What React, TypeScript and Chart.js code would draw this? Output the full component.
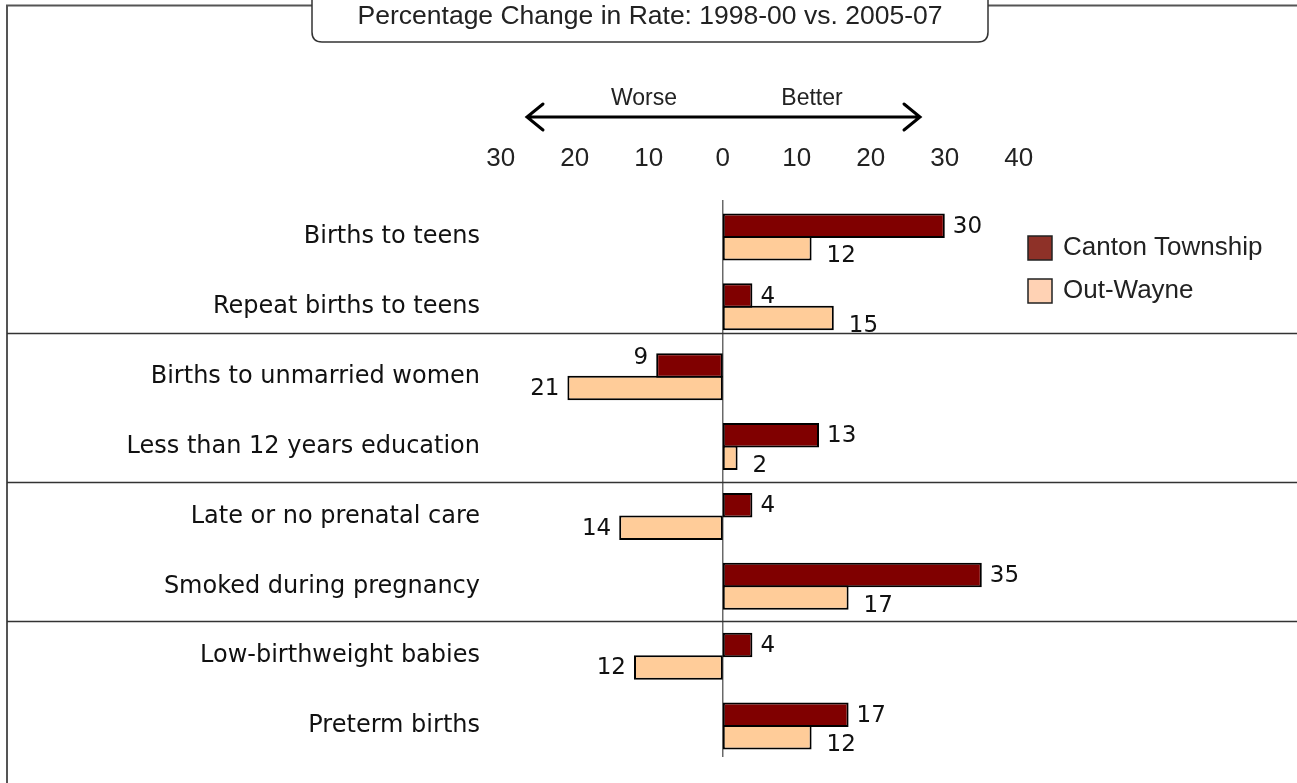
import React, { useEffect, useRef } from "react";
import { Chart, registerables } from "chart.js";

Chart.register(...registerables);

const categories = [
  "Births to teens",
  "Repeat births to teens",
  "Births to unmarried women",
  "Less than 12 years education",
  "Late or no prenatal care",
  "Smoked during pregnancy",
  "Low-birthweight babies",
  "Preterm births",
];
const cantonValues = [30, 4, -9, 13, 4, 35, 4, 17];
const outWayneValues = [12, 15, -21, 2, -14, 17, -12, 12];
const xTickValues = [-30, -20, -10, 0, 10, 20, 30, 40];
const seriesNames = ["Canton Township", "Out-Wayne"];
const groupSeparatorsAt = [1.38, 3.5, 5.5];
const chartTitle = "Percentage Change in Rate: 1998-00 vs. 2005-07";
const directionWords = ["Worse", "Better"];

const BAR_COLORS = ["#800000", "#FFCC99"];
const LEGEND_COLORS = ["#8E3128", "#FFD2B4"];
const LABEL_FONT = '23px "DejaVu Sans"';
const SANS = '"Liberation Sans", Arial, sans-serif';

const decorPlugin = {
  id: "decor",
  beforeDatasetsDraw(chart: any) {
    const { ctx, chartArea, scales } = chart;
    const x0 = scales.x.getPixelForValue(0);
    ctx.save();
    ctx.strokeStyle = "#444";
    ctx.lineWidth = 1.2;
    ctx.beginPath();
    ctx.moveTo(x0, chartArea.top - 2);
    ctx.lineTo(x0, chartArea.bottom - 4);
    ctx.stroke();
    ctx.restore();
  },
  afterDraw(chart: any) {
    const { ctx, scales, width } = chart;
    const yScale = scales.y;
    ctx.save();

    // frame
    ctx.strokeStyle = "#555";
    ctx.lineWidth = 2;
    ctx.beginPath();
    ctx.moveTo(7, 783);
    ctx.lineTo(7, 5.5);
    ctx.lineTo(width, 5.5);
    ctx.stroke();

    // title box
    const bx0 = 312, bx1 = 988, by0 = -20, by1 = 42, r = 10;
    ctx.beginPath();
    ctx.moveTo(bx0, by0);
    ctx.lineTo(bx0, by1 - r);
    ctx.quadraticCurveTo(bx0, by1, bx0 + r, by1);
    ctx.lineTo(bx1 - r, by1);
    ctx.quadraticCurveTo(bx1, by1, bx1, by1 - r);
    ctx.lineTo(bx1, by0);
    ctx.closePath();
    ctx.fillStyle = "#fff";
    ctx.fill();
    ctx.strokeStyle = "#333";
    ctx.lineWidth = 1.5;
    ctx.stroke();
    ctx.fillStyle = "#222";
    ctx.font = "26.5px " + SANS;
    ctx.textAlign = "center";
    ctx.textBaseline = "middle";
    ctx.fillText(chartTitle, 650, 17);

    // direction arrow
    const ay = 117, ax0 = 527, ax1 = 920;
    ctx.strokeStyle = "#000";
    ctx.lineWidth = 3;
    ctx.lineCap = "round";
    ctx.beginPath();
    ctx.moveTo(ax0, ay);
    ctx.lineTo(ax1, ay);
    ctx.moveTo(ax0 + 16, ay - 13);
    ctx.lineTo(ax0, ay);
    ctx.lineTo(ax0 + 16, ay + 13);
    ctx.moveTo(ax1 - 16, ay - 13);
    ctx.lineTo(ax1, ay);
    ctx.lineTo(ax1 - 16, ay + 13);
    ctx.stroke();
    ctx.font = "23px " + SANS;
    ctx.fillStyle = "#222";
    ctx.fillText(directionWords[0], 644, 99);
    ctx.fillText(directionWords[1], 812, 99);

    // group separators
    ctx.strokeStyle = "#333";
    ctx.lineWidth = 1.5;
    ctx.lineCap = "butt";
    groupSeparatorsAt.forEach((pos) => {
      const yy = Math.round(yScale.getPixelForValue(pos)) + 0.5;
      ctx.beginPath();
      ctx.moveTo(7, yy);
      ctx.lineTo(width, yy);
      ctx.stroke();
    });

    // data labels
    ctx.font = LABEL_FONT;
    ctx.fillStyle = "#111";
    ctx.textBaseline = "middle";
    chart.data.datasets.forEach((ds: any, di: number) => {
      const meta = chart.getDatasetMeta(di);
      meta.data.forEach((el: any, i: number) => {
        const v = ds.data[i];
        const label = String(Math.abs(v));
        if (v >= 0) {
          ctx.textAlign = "left";
          ctx.fillText(label, el.x + (di === 0 ? 8 : 15), el.y + (di === 0 ? 1 : 8));
        } else {
          ctx.textAlign = "right";
          ctx.fillText(label, el.x - 8, el.y + (di === 0 ? -7 : 1));
        }
      });
    });

    // legend
    ctx.font = "26px " + SANS;
    ctx.textAlign = "left";
    ctx.textBaseline = "middle";
    seriesNames.forEach((name, i) => {
      const top = 236 + i * 43;
      ctx.fillStyle = LEGEND_COLORS[i];
      ctx.fillRect(1028, top, 24, 24);
      ctx.strokeStyle = "#222";
      ctx.lineWidth = 1.5;
      ctx.strokeRect(1028, top, 24, 24);
      ctx.fillStyle = "#222";
      ctx.fillText(name, 1063, top + 12);
    });

    ctx.restore();
  },
};

export default function App() {
  const canvasRef = useRef<HTMLCanvasElement | null>(null);

  useEffect(() => {
    if (!canvasRef.current) return;
    const chart = new Chart(canvasRef.current, {
      type: "bar",
      data: {
        labels: categories,
        datasets: [
          {
            label: seriesNames[0],
            data: cantonValues,
            backgroundColor: BAR_COLORS[0],
            borderColor: "#000",
            borderWidth: 2,
            borderSkipped: false,
          },
          {
            label: seriesNames[1],
            data: outWayneValues,
            backgroundColor: BAR_COLORS[1],
            borderColor: "#000",
            borderWidth: 2,
            borderSkipped: false,
          },
        ],
      },
      options: {
        indexAxis: "y",
        responsive: false,
        animation: false,
        events: [],
        layout: { padding: { left: 0, right: 219, top: 0, bottom: 22 } },
        datasets: {
          bar: { categoryPercentage: 0.645, barPercentage: 1.09 },
        },
        plugins: {
          legend: { display: false },
          tooltip: { enabled: false },
          title: { display: false },
        },
        scales: {
          x: {
            position: "top",
            min: -32,
            max: 48,
            grid: { display: false, drawTicks: false },
            border: { display: false },
            afterFit: (scale: any) => {
              scale.height = 202;
            },
            afterBuildTicks: (scale: any) => {
              scale.ticks = xTickValues.map((v) => ({ value: v }));
            },
            ticks: {
              padding: 28,
              color: "#222",
              font: { family: "Liberation Sans", size: 26 },
              callback: (v: any) => String(Math.abs(Number(v))),
            },
          },
          y: {
            grid: { display: false, drawTicks: false },
            border: { display: false },
            afterFit: (scale: any) => {
              scale.width = 486;
            },
            ticks: {
              padding: 6,
              color: "#111",
              font: { family: "DejaVu Sans", size: 24 },
            },
          },
        },
      },
      plugins: [decorPlugin],
    });
    return () => chart.destroy();
  }, []);

  return (
    <div style={{ position: "fixed", left: 0, top: 0, width: 1297, height: 783, background: "#fff" }}>
      <canvas ref={canvasRef} width={1297} height={783} />
    </div>
  );
}
